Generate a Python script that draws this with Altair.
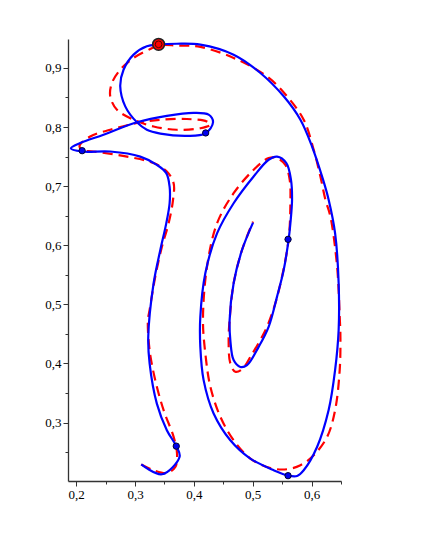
import altair as alt
import pandas as pd

blue_x = [0.3105, 0.3457, 0.3757, 0.370, 0.354, 0.337, 0.3247, 0.3224, 0.3315, 0.3429,
          0.353, 0.3587, 0.3587, 0.353, 0.337, 0.3088, 0.2578, 0.2097, 0.191, 0.2068,
          0.2464, 0.3032, 0.354, 0.3995, 0.425, 0.4325, 0.4194, 0.388, 0.3429, 0.320,
          0.3032, 0.2833, 0.2748, 0.2804, 0.2975, 0.320, 0.3395, 0.371, 0.411, 0.4675,
          0.513, 0.5526, 0.581, 0.6008, 0.6195, 0.629, 0.640, 0.646, 0.646, 0.640, 0.629,
          0.6093, 0.5866, 0.5753, 0.560, 0.5356, 0.4959, 0.4619, 0.4335, 0.4165, 0.4109,
          0.4109, 0.4194, 0.4393, 0.4675, 0.5015, 0.527, 0.5413, 0.5571, 0.565, 0.5668,
          0.564, 0.561, 0.5526, 0.5413, 0.527, 0.510, 0.4903, 0.4789, 0.4675, 0.4619,
          0.4607, 0.4675, 0.4818, 0.5005]
blue_y = [0.229, 0.2124, 0.242, 0.260, 0.287, 0.332, 0.400, 0.445, 0.5356, 0.592,
          0.637, 0.671, 0.699, 0.722, 0.736, 0.750, 0.7586, 0.7586, 0.764, 0.773,
          0.787, 0.808, 0.819, 0.824, 0.821, 0.808, 0.789, 0.785, 0.789, 0.7954,
          0.808, 0.835, 0.869, 0.897, 0.9225, 0.9366, 0.9395, 0.941, 0.9395, 0.9225,
          0.8915, 0.852, 0.8124, 0.767, 0.711, 0.677, 0.620, 0.5356, 0.4564, 0.389, 0.321,
          0.2586, 0.2192, 0.2095, 0.2102, 0.2192, 0.239, 0.270, 0.3153, 0.3717, 0.428,
          0.479, 0.5525, 0.620, 0.671, 0.7163, 0.7446, 0.750, 0.739, 0.7107, 0.6768,
          0.6373, 0.610, 0.558, 0.513, 0.462, 0.428, 0.397, 0.394, 0.4056, 0.4395,
          0.4734, 0.5356, 0.592, 0.6383]

red_x = [0.3105, 0.3315, 0.354, 0.3684, 0.3713, 0.3655, 0.3485, 0.3343, 0.3247, 0.3218,
         0.3247, 0.3343, 0.3457, 0.357, 0.3645, 0.3655, 0.354, 0.3315, 0.2862, 0.2294,
         0.210, 0.2055, 0.2238, 0.2578, 0.303, 0.343, 0.388, 0.422, 0.428, 0.411,
         0.371, 0.3315, 0.2975, 0.2692, 0.2578, 0.2607, 0.2748, 0.2975, 0.3258, 0.3395,
         0.371, 0.411, 0.4675, 0.524, 0.5583, 0.5866, 0.6036, 0.615, 0.6235, 0.632, 0.6434,
         0.6478, 0.649, 0.6478, 0.640, 0.6264, 0.6036, 0.581, 0.5583, 0.530, 0.496,
         0.4675, 0.445, 0.428, 0.4194, 0.4154, 0.4223, 0.4393, 0.4675, 0.5015, 0.527,
         0.5413, 0.5554, 0.5628, 0.564, 0.561, 0.5498, 0.5384, 0.5243, 0.5158, 0.496,
         0.4818, 0.4704, 0.4619, 0.459, 0.4607, 0.4675, 0.4818, 0.5005]
red_y = [0.229, 0.2192, 0.2146, 0.2247, 0.2475, 0.2756, 0.3208, 0.3717, 0.4225, 0.4734,
         0.4903, 0.5468, 0.5977, 0.637, 0.6768, 0.705, 0.7247, 0.739, 0.750, 0.7586,
         0.761, 0.768, 0.784, 0.7954, 0.8068, 0.8124, 0.8136, 0.8095, 0.804, 0.798,
         0.7954, 0.801, 0.8124, 0.8293, 0.852, 0.8746, 0.897, 0.917, 0.932, 0.938,
         0.938, 0.9356, 0.917, 0.8858, 0.852, 0.8124, 0.7615, 0.7163, 0.677, 0.6485, 0.5637,
         0.479, 0.445, 0.389, 0.321, 0.2756, 0.2446, 0.2277, 0.2209, 0.223, 0.239,
         0.270, 0.3095, 0.3604, 0.417, 0.4734, 0.5637, 0.637, 0.688, 0.7276, 0.7475,
         0.7475, 0.736, 0.7107, 0.671, 0.61, 0.547, 0.5017, 0.462, 0.445, 0.411,
         0.390, 0.3858, 0.400, 0.4395, 0.4734, 0.5356, 0.592, 0.640]

dot_x = [0.37, 0.21, 0.42, 0.56, 0.56]
dot_y = [0.26, 0.76, 0.79, 0.61, 0.21]
start_x = [0.34]
start_y = [0.94]

x_major = [0.2, 0.3, 0.4, 0.5, 0.6]
x_minor = [0.25, 0.35, 0.45, 0.55, 0.65]
y_major = [0.3, 0.4, 0.5, 0.6, 0.7, 0.8, 0.9]
y_minor = [0.25, 0.35, 0.45, 0.55, 0.65, 0.75, 0.85]
x_domain = [0.186, 0.65]
y_domain = [0.201, 0.949]

blue = pd.DataFrame({"x": blue_x, "y": blue_y, "i": range(len(blue_x))})
red = pd.DataFrame({"x": red_x, "y": red_y, "i": range(len(red_x))})
dots = pd.DataFrame({"x": dot_x, "y": dot_y})
start = pd.DataFrame({"x": start_x, "y": start_y})

lab = "replace(format(datum.value, '.1f'), '.', ',')"
common = dict(tickSize=5, domainColor="#333", tickColor="#333", labelFont="Liberation Serif",
              labelFontSize=13, labelColor="black", grid=False, title=None, labelOverlap=False,
              domainWidth=1.3, tickWidth=1)

xsc = alt.Scale(domain=x_domain, nice=False, zero=False)
ysc = alt.Scale(domain=y_domain, nice=False, zero=False)

x_main = alt.X("x:Q", scale=xsc, axis=alt.Axis(values=x_major, labelExpr=lab, labelPadding=2,
                                                orient="bottom", **common))
y_main = alt.Y("y:Q", scale=ysc, axis=alt.Axis(values=y_major, labelExpr=lab, labelPadding=2,
                                                orient="left", **common))
x_min = alt.X("x:Q", scale=xsc, axis=alt.Axis(values=x_minor, labels=False, domain=False,
                                               orient="bottom", tickSize=3, tickColor="#333",
                                               grid=False, title=None))
y_min = alt.Y("y:Q", scale=ysc, axis=alt.Axis(values=y_minor, labels=False, domain=False,
                                               orient="left", tickSize=3, tickColor="#333",
                                               grid=False, title=None))
x_none = alt.X("x:Q", scale=xsc, axis=None)
y_none = alt.Y("y:Q", scale=ysc, axis=None)

red_line = alt.Chart(red).mark_line(color="#ff0000", strokeWidth=2.2, strokeDash=[10, 6],
                                    interpolate="catmull-rom").encode(x=x_main, y=y_main, order="i:Q")
blue_line = alt.Chart(blue).mark_line(color="#0000ff", strokeWidth=2.2,
                                      interpolate="catmull-rom").encode(x=x_min, y=y_min, order="i:Q")
dot_layer = alt.Chart(dots).mark_point(filled=True, fill="#0000ee", stroke="#000033", strokeWidth=1,
                                       opacity=1, size=40).encode(x=x_none, y=y_none)
start_big = alt.Chart(start).mark_point(filled=True, fill="#ff0000", stroke="#222", strokeWidth=1.5,
                                        opacity=1, size=140).encode(x=x_none, y=y_none)
start_small = alt.Chart(start).mark_point(filled=False, stroke="#550000", strokeWidth=1,
                                          opacity=1, size=45).encode(x=x_none, y=y_none)

chart = alt.layer(red_line, blue_line, dot_layer, start_big, start_small).resolve_axis(
    x="independent", y="independent"
).properties(
    width=273, height=442,
    padding={"left": 60, "top": 31, "right": 20, "bottom": 40},
    autosize="none",
).configure_view(stroke=None)

chart.save("out.html", embed_options={"renderer": "svg", "actions": False})
